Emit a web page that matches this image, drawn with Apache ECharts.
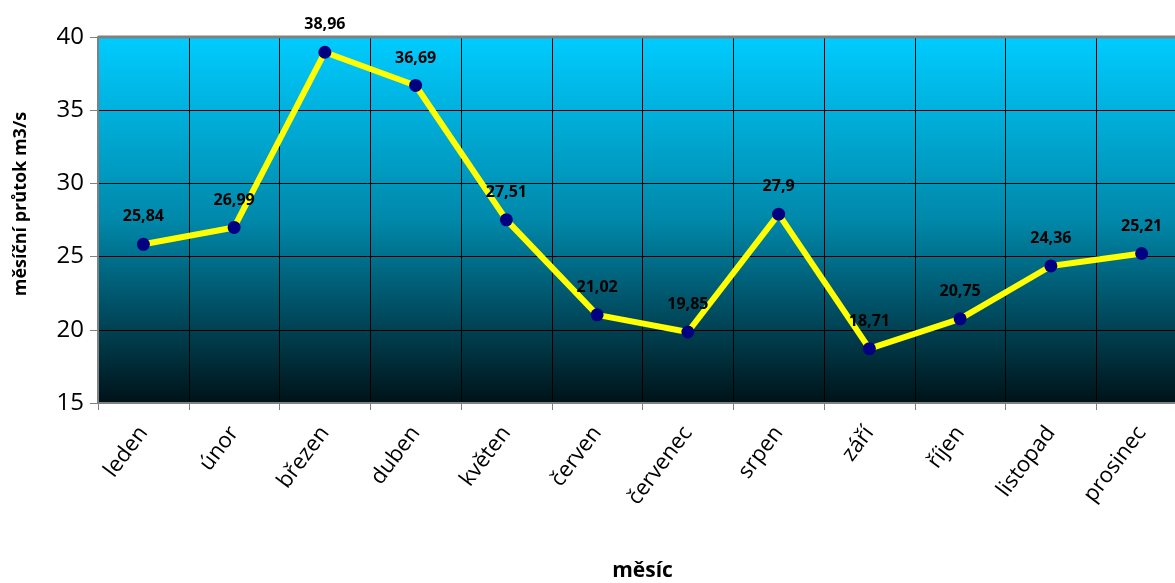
<!DOCTYPE html>
<html><head><meta charset="utf-8">
<script src="https://cdn.jsdelivr.net/npm/echarts@6/dist/echarts.min.js"></script>
<style>html,body{margin:0;padding:0;background:#fff}#c{width:1175px;height:583px}</style>
</head><body><div id="c"></div>
<script>
const months = ['leden','únor','březen','duben','květen','červen','červenec','srpen','září','říjen','listopad','prosinec'];
const flow = [25.84,26.99,38.96,36.69,27.51,21.02,19.85,27.9,18.71,20.75,24.36,25.21];
const yTicks = [15,20,25,30,35,40];
const chart = echarts.init(document.getElementById('c'));
const F = '"Open Sans", "Noto Sans", sans-serif';
chart.setOption({
  animation:false,
  grid:{left:98, top:37, width:1089, height:366, show:true, borderWidth:0, containLabel:false, outerBoundsMode:'none',
    backgroundColor:new echarts.graphic.LinearGradient(0,0,0,1,[{offset:0,color:'#00CCFF'},{offset:0.5,color:'#0088AA'},{offset:1,color:'#001218'}])},
  xAxis:{type:'category', data:months, boundaryGap:true,
    name:'měsíc', nameLocation:'middle', nameGap:158,
    nameTextStyle:{fontFamily:F, fontWeight:'bold', fontSize:21, color:'#000'},
    axisLine:{show:true, lineStyle:{color:'#808080', width:2}},
    axisTick:{show:true, alignWithLabel:false, length:7, lineStyle:{color:'#808080'}},
    axisLabel:{rotate:53, fontFamily:F, fontSize:22, color:'#000', margin:26},
    splitLine:{show:true, lineStyle:{color:'#000', width:1}}},
  yAxis:{type:'value', min:15, max:40, interval:5,
    name:'měsíční průtok m3/s', nameLocation:'middle', nameGap:68,
    nameTextStyle:{fontFamily:F, fontWeight:'bold', fontSize:18, color:'#000', padding:[0,0,0,32]},
    axisLine:{show:true, lineStyle:{color:'#808080', width:2}},
    axisTick:{show:true, length:8, lineStyle:{color:'#808080'}},
    axisLabel:{fontFamily:F, fontSize:24, color:'#000', margin:14,
      formatter:v=>yTicks.includes(v)?String(v):''},
    splitLine:{show:true, lineStyle:{color:'#000', width:1}}},
  graphic:[{type:'line', shape:{x1:98,y1:37,x2:1175,y2:37}, style:{stroke:'#808080', lineWidth:3}, z:10}],
  series:[{type:'line', data:flow, symbol:'circle', symbolSize:13,
    lineStyle:{color:'#FFFF00', width:6},
    itemStyle:{color:'#000080'},
    label:{show:true, position:'top', distance:13, fontFamily:F, fontWeight:'bold', fontSize:16, color:'#000',
      formatter:p=>String(p.value).replace('.',',')}, z:5}]
});
</script></body></html>
